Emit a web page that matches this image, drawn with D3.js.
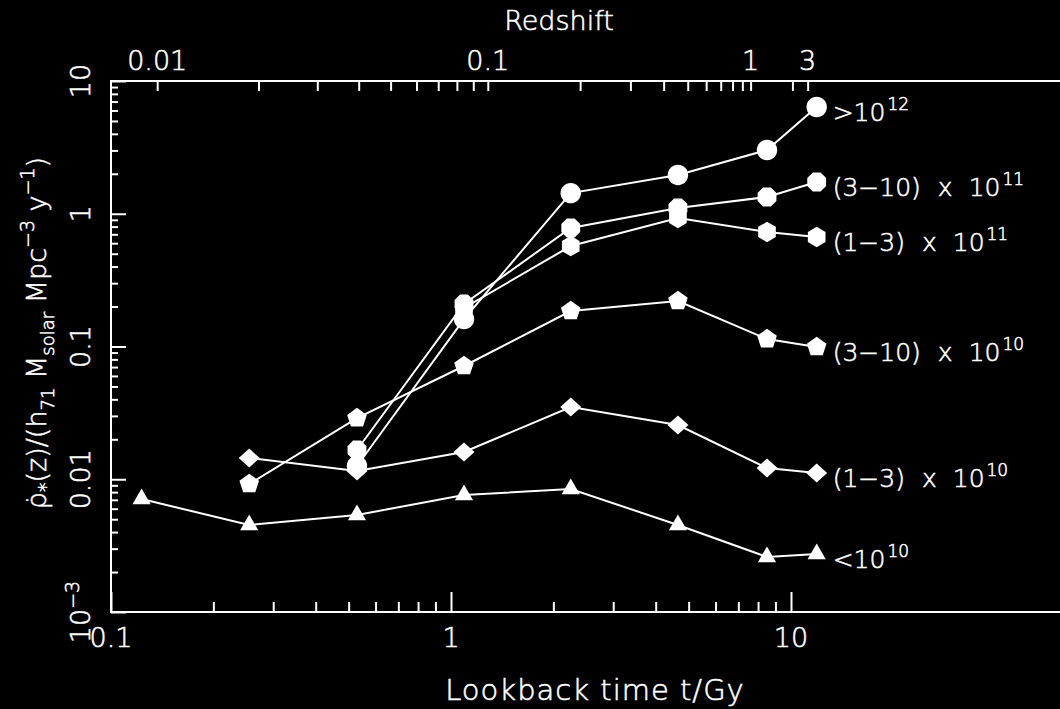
<!DOCTYPE html>
<html><head><meta charset="utf-8">
<script src="https://cdn.jsdelivr.net/npm/d3@7"></script>
<style>
html,body{margin:0;padding:0;background:#000;overflow:hidden;}
svg{display:block;background:#000;}
text{font-family:"DejaVu Sans",sans-serif;fill:#fff;font-weight:200;stroke:#fff;stroke-width:0.55px;}
</style></head><body>
<svg id="chart" width="1060" height="709"></svg>
<script>
// ---------------- data ----------------
const lookbackTimes = [0.123, 0.255, 0.529, 1.092, 2.25, 4.65, 8.5, 11.9]; // Gyr
const massBelow1e10   = [0.0071, 0.00452, 0.00538, 0.00761, 0.00845, 0.00452, 0.0026, 0.00274];
const mass1to3e10     = [null, 0.01445, 0.01153, 0.01604, 0.0350, 0.02563, 0.01216, 0.01114];
const mass3to10e10    = [null, 0.00921, 0.0289, 0.0713, 0.185, 0.220, 0.1138, 0.0991];
const mass1to3e11     = [null, null, null, 0.195, 0.571, 0.929, 0.729, 0.668];
const mass3to10e11    = [null, null, 0.0166, 0.209, 0.781, 1.105, 1.337, 1.734];
const massAbove1e12   = [null, null, 0.01259, 0.161, 1.43, 1.96, 3.02, 6.37];

const seriesValues = [massBelow1e10, mass1to3e10, mass3to10e10, mass1to3e11, mass3to10e11, massAbove1e12];
const seriesLabelMain = ["<10", "(1\u22123)", "(3\u221210)", "(1\u22123)", "(3\u221210)", ">10"];
const seriesLabelTimes = [false, true, true, true, true, false];
const seriesLabelExp = ["10", "10", "10", "11", "11", "12"];
const seriesMarker = ["triangle", "diamond", "pentagon", "hexagon", "octagon", "circle"];

const bottomTickValues = [0.1,0.2,0.3,0.4,0.5,0.6,0.7,0.8,0.9,1,2,3,4,5,6,7,8,9,10];
const bottomTickLabels = ["0.1","1","10"];
const bottomLabelValues = [0.1, 1, 10];
const leftTickValues = [0.001,0.002,0.003,0.004,0.005,0.006,0.007,0.008,0.009,
  0.01,0.02,0.03,0.04,0.05,0.06,0.07,0.08,0.09,0.1,0.2,0.3,0.4,0.5,0.6,0.7,0.8,0.9,
  1,2,3,4,5,6,7,8,9,10];
const leftLabelValues = [0.001, 0.01, 0.1, 1, 10];
const leftLabelMain = ["10", "0.01", "0.1", "1", "10"];
const leftLabelSup = ["\u22123", "", "", "", ""];
const topTickValues = [0.01,0.02,0.03,0.04,0.05,0.06,0.07,0.08,0.09,0.1,0.2,0.3,0.4,0.5,0.6,0.7,0.8,0.9,1,2,3];
const topLabelValues = [0.01, 0.1, 1, 3];
const topLabelText = ["0.01", "0.1", "1", "3"];

// ---------------- cosmology for top axis ----------------
function lookbackGyr(z){
  const H0=71, Om=0.3, OL=0.7, tH=977.8/H0, n=400, h=z/n;
  let s=0;
  for(let i=0;i<=n;i++){
    const zz=i*h;
    const f=1/((1+zz)*Math.sqrt(Om*Math.pow(1+zz,3)+OL));
    s+=f*((i===0||i===n)?1:(i%2?4:2));
  }
  return tH*s*h/3;
}

// ---------------- layout ----------------
const L=111, T=81, B=612;
const x = d3.scaleLog().domain([0.1, 70]).range([L, L+340*Math.log10(700)]);
const y = d3.scaleLog().domain([1e-3, 10]).range([B, T]);
const R = x.range()[1];
const zScale = d3.scaleLinear().domain(topTickValues).range(topTickValues.map(z=>x(lookbackGyr(z))));

const svg = d3.select("#chart");
svg.append("rect").attr("width",1060).attr("height",709).attr("fill","#000");

// frame
svg.append("rect").attr("x",L).attr("y",T).attr("width",R-L).attr("height",B-T)
  .attr("fill","none").attr("stroke","#fff").attr("stroke-width",2);

function styleAxis(g){
  g.select(".domain").remove();
  g.selectAll(".tick line").attr("stroke","#fff").attr("stroke-width",2);
  g.selectAll(".tick text").remove();
}
const isDecade = v => Math.abs(Math.log10(v) - Math.round(Math.log10(v))) < 1e-9;

// bottom axis
const gB = svg.append("g").attr("transform",`translate(0,${B})`)
  .call(d3.axisBottom(x).tickValues(bottomTickValues).tickSize(-10).tickFormat(""));
styleAxis(gB);
gB.selectAll(".tick line").attr("y2", d => isDecade(d) ? -20 : -10);

// left axis
const gL = svg.append("g").attr("transform",`translate(${L},0)`)
  .call(d3.axisLeft(y).tickValues(leftTickValues).tickSize(-7).tickFormat(""));
styleAxis(gL);
gL.selectAll(".tick line").attr("x2", d => isDecade(d) ? 15 : 7);

// top axis (redshift)
const gT = svg.append("g").attr("transform",`translate(0,${T})`)
  .call(d3.axisTop(zScale).tickValues(topTickValues).tickSize(-10).tickFormat(""));
styleAxis(gT);

// bottom labels
svg.selectAll(".blab").data(bottomLabelValues).enter().append("text")
  .attr("x", d=>x(d)).attr("y", 647).attr("text-anchor","middle")
  .attr("font-size",27).text((d,i)=>bottomTickLabels[i]);

// top labels
svg.selectAll(".tlab").data(topLabelValues).enter().append("text")
  .attr("x", d=>zScale(d)).attr("y", 70).attr("text-anchor","middle")
  .attr("font-size",27).text((d,i)=>topLabelText[i]);

// left labels (rotated)
leftLabelValues.forEach((v,i)=>{
  const t = svg.append("text").attr("font-size",27).attr("text-anchor","middle")
    .attr("transform",`translate(90,${y(v)}) rotate(-90)`);
  t.append("tspan").text(leftLabelMain[i]);
  if(leftLabelSup[i]) t.append("tspan").attr("font-size",19).attr("dy",-11).text(leftLabelSup[i]);
});

// axis titles
svg.append("text").attr("x",559).attr("y",30).attr("text-anchor","middle").attr("font-size",27).text("Redshift");
svg.append("text").attr("x",595).attr("y",700).attr("text-anchor","middle").attr("font-size",29)
  .attr("letter-spacing",1).text("Lookback time t/Gy");

const yt = svg.append("text").attr("font-size",27).attr("text-anchor","middle")
  .attr("transform","translate(46,333) rotate(-90)");
yt.append("tspan").text("\u03C1\u0307");
yt.append("tspan").attr("font-size",19).attr("dy",6).text("*");
yt.append("tspan").attr("dy",-6).text("(z)/(h");
yt.append("tspan").attr("font-size",18).attr("dy",8).text("71");
yt.append("tspan").attr("dy",-8).text("\u00A0M");
yt.append("tspan").attr("font-size",18).attr("dy",8).text("solar");
yt.append("tspan").attr("dy",-8).text("\u00A0Mpc");
yt.append("tspan").attr("font-size",19).attr("dy",-12).text("\u22123");
yt.append("tspan").attr("dy",12).text("\u00A0y");
yt.append("tspan").attr("font-size",19).attr("dy",-12).text("\u22121");
yt.append("tspan").attr("dy",12).text(")");

// ---------------- series ----------------
function polygonPath(n, r, rot, sy){
  const pts=[];
  for(let k=0;k<n;k++){
    const a = rot + 2*Math.PI*k/n;
    pts.push([r*Math.cos(a), r*Math.sin(a)*(sy||1)]);
  }
  return "M"+pts.map(p=>p[0].toFixed(2)+","+p[1].toFixed(2)).join("L")+"Z";
}
const markerPath = {
  triangle: polygonPath(3, 10.5, -Math.PI/2),
  diamond: polygonPath(4, 10.5, -Math.PI/2, 0.9),
  pentagon: polygonPath(5, 10.3, -Math.PI/2),
  hexagon: polygonPath(6, 10.2, -Math.PI/2),
  octagon: polygonPath(8, 10.2, Math.PI/8),
  circle: polygonPath(32, 10.2, 0)
};

const line = d3.line().x(d=>x(d.t)).y(d=>y(d.v));
seriesValues.forEach((vals, si)=>{
  const pts = vals.map((v,i)=>({t:lookbackTimes[i], v})).filter(d=>d.v!=null);
  svg.append("path").attr("d", line(pts)).attr("fill","none").attr("stroke","#fff").attr("stroke-width",2);
});
seriesValues.forEach((vals, si)=>{
  const pts = vals.map((v,i)=>({t:lookbackTimes[i], v})).filter(d=>d.v!=null);
  svg.selectAll(null).data(pts).enter().append("path")
    .attr("d", markerPath[seriesMarker[si]])
    .attr("transform", d=>`translate(${x(d.t)},${y(d.v)})`)
    .attr("fill","#fff");
  const last = pts[pts.length-1];
  const tx = svg.append("text").attr("font-size",25)
    .attr("x", x(last.t)+16).attr("y", y(last.v)+14);
  tx.append("tspan").text(seriesLabelMain[si]);
  if(seriesLabelTimes[si]){
    tx.append("tspan").attr("dx",17).text("x");
    tx.append("tspan").attr("dx",16).text("10");
  }
  tx.append("tspan").attr("font-size",17).attr("dx",2).attr("dy",-11).text(seriesLabelExp[si]);
});
</script>
</body></html>
